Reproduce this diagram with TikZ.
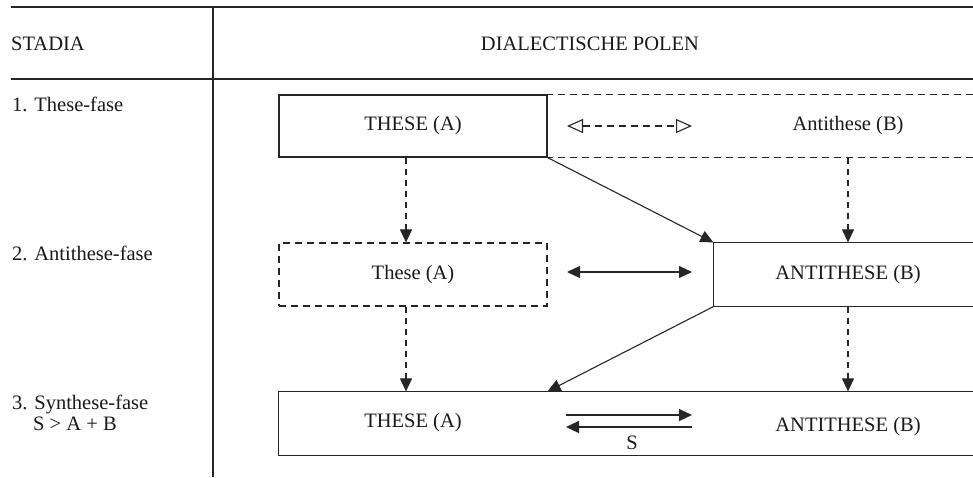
\documentclass[tikz,border=0pt]{standalone}
\usepackage{fontspec}
\setmainfont{Liberation Serif}
\usetikzlibrary{arrows.meta}

\tikzset{
  rule/.style={line width=1.5pt, draw=black!85},
  sep/.style={line width=1.1pt, draw=black!85},
  txt/.style={font=\fontsize{20.5}{24}\selectfont, inner sep=0pt, text=black!90},
  box/.style={rectangle, inner sep=0pt, line width=1.2pt, font=\fontsize{20.5}{24}\selectfont, text=black!90},
  solidside/.style={line width=1.2pt, draw=black!85},
  dashside/.style={line width=1.2pt, draw=black!85, dash pattern=on 7pt off 5pt},
  flow/.style={line width=1.1pt, draw=black!85, -{Triangle[length=13pt,width=12pt]}},
  dflow/.style={line width=1.1pt, draw=black!85, dash pattern=on 6pt off 5pt, -{Triangle[length=13pt,width=12pt]}},
  duo/.style={line width=1.1pt, draw=black!85, {Triangle[length=13pt,width=12pt]}-{Triangle[length=13pt,width=12pt]}},
  openduo/.style={line width=1.1pt, draw=black!85, dash pattern=on 7pt off 5pt,
    {Triangle[open,length=16pt,width=14pt,line width=1.1pt]}-{Triangle[open,length=16pt,width=14pt,line width=1.1pt]}}
}

\begin{document}
\begin{tikzpicture}[x=1pt,y=-1pt]
\useasboundingbox[fill=white] (0,0) rectangle (973,477);

% table rules
\coordinate (tl) at (11,7);
\coordinate (tr) at (973,7);
\coordinate (hl) at (11,79);
\coordinate (hr) at (973,79);
\coordinate (vt) at (213,7);
\coordinate (vb) at (213,477);
\draw[rule] (tl) -- (tr);
\draw[rule] (hl) -- (hr);
\draw[sep] (vt) -- (vb);

% header
\node[txt, anchor=west] (stadia) at (11,44) {STADIA};
\node[txt] (polen) at (590,44) {DIALECTISCHE POLEN};

% stage labels
\node[txt, anchor=base west] (f1) at (12,111) {1. These-fase};
\node[txt, anchor=base west] (f2) at (12,260) {2. Antithese-fase};
\node[txt, anchor=base west] (f3) at (12,409) {3. Synthese-fase};
\node[txt, anchor=base west] (f3b) at (33,430) {S > A + B};

% column axes
\coordinate (colA) at (406,0);
\coordinate (colB) at (848,0);

% stage 1
\node[box, draw=black!85, minimum width=268pt, minimum height=62pt] (t1) at (413,126) {THESE (A)};
\node[box, minimum width=426pt, minimum height=62pt] (a1) at (760,126) {};
\draw[dashside] (a1.north west) -- (a1.north east);
\draw[dashside] (a1.south west) -- (a1.south east);
\node[txt] (a1t) at (848,126) {Antithese (B)};
\coordinate (o1l) at (567,126);
\coordinate (o1r) at (692,126);
\draw[openduo] (o1l) -- (o1r);

% stage 2
\node[box, draw=black!85, dash pattern=on 7pt off 5pt, minimum width=268pt, minimum height=63pt] (t2) at (413,274.5) {These (A)};
\node[box, minimum width=259pt, minimum height=63pt] (b2) at (843.5,274.5) {};
\draw[solidside] (b2.north east) -- (b2.north west) -- (b2.south west) -- (b2.south east);
\node[txt] (b2t) at (848,275) {ANTITHESE (B)};
\coordinate (d2l) at (567,272);
\coordinate (d2r) at (692,272);
\draw[duo] (d2l) -- (d2r);

% stage 3
\node[box, minimum width=694pt, minimum height=63pt] (s3) at (626,423.5) {};
\draw[solidside] (s3.north east) -- (s3.north west) -- (s3.south west) -- (s3.south east);
\node[txt] (s3a) at (413,423) {THESE (A)};
\node[txt] (s3b) at (848,427) {ANTITHESE (B)};
\coordinate (r3l) at (566,415);
\coordinate (r3r) at (692,415);
\coordinate (l3l) at (566,427);
\coordinate (l3r) at (692,427);
\draw[flow] (r3l) -- (r3r);
\draw[flow] (l3r) -- (l3l);
\node[txt] (s3s) at (632,443) {S};

% transitions between stages
\draw[dflow] (t1.south -| colA) -- (t2.north -| colA);
\draw[dflow] (a1.south -| colB) -- (b2.north -| colB);
\draw[flow] (t1.south east) -- (b2.north west);
\draw[dflow] (t2.south -| colA) -- (s3.north -| colA);
\draw[dflow] (b2.south -| colB) -- (s3.north -| colB);
\draw[flow] (b2.south west) -- (t2.south east |- s3.north);
\end{tikzpicture}
\end{document}
